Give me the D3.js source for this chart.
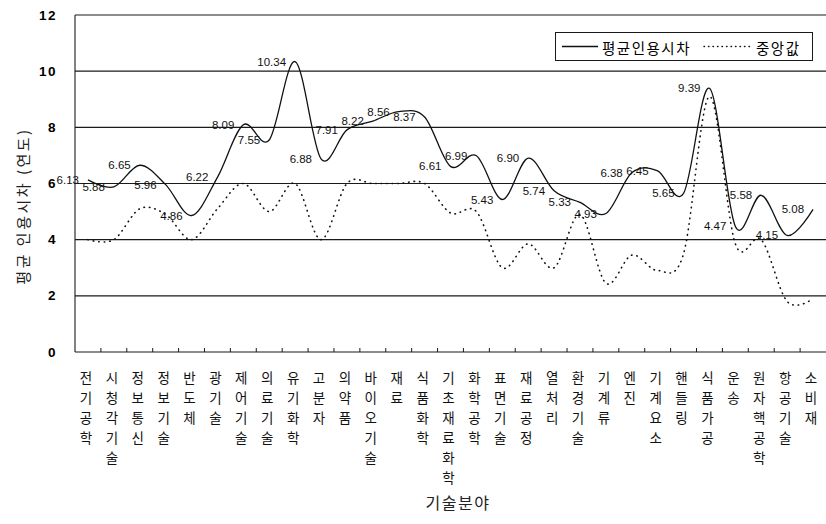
<!DOCTYPE html>
<html>
<head>
<meta charset="utf-8">
<script src="https://cdn.jsdelivr.net/npm/d3@7"></script>
<style>
  html, body { margin: 0; padding: 0; background: #fff; }
  svg { display: block; }
</style>
</head>
<body>
<svg id="chart" width="826" height="524"></svg>
<script>
// Technology fields (x axis categories)
const categories = [
  "전기공학", "시청각기술", "정보통신", "정보기술", "반도체", "광기술",
  "제어기술", "의료기술", "유기화학", "고분자", "의약품", "바이오기술",
  "재료", "식품화학", "기초재료화학", "화학공학", "표면기술", "재료공정",
  "열처리", "환경기술", "기계류", "엔진", "기계요소", "핸들링",
  "식품가공", "운송", "원자핵공학", "항공기술", "소비재"
];

// Mean citation lag (years) — labelled series
const meanLag = [
  6.13, 5.88, 6.65, 5.96, 4.86, 6.22, 8.09, 7.55, 10.34, 6.88,
  7.91, 8.22, 8.56, 8.37, 6.61, 6.99, 5.43, 6.90, 5.74, 5.33,
  4.93, 6.38, 6.45, 5.65, 9.39, 4.47, 5.58, 4.15, 5.08
];

// Median citation lag (years)
const medianLag = [
  4.0, 4.0, 5.1, 4.9, 4.0, 5.1, 6.0, 5.0, 6.0, 4.0,
  6.0, 6.0, 6.0, 6.0, 4.95, 5.0, 3.0, 3.85, 3.0, 4.9,
  2.45, 3.45, 2.9, 3.5, 9.1, 3.85, 4.0, 1.8, 1.9
];

const yTicks = [0, 2, 4, 6, 8, 10, 12];
const seriesNames = ["평균인용시차", "중앙값"];
const yTitle = "평균 인용시차 (연도)";
const xTitle = "기술분야";

const svg = d3.select("#chart");
const plot = { left: 75, right: 826, top: 15, bottom: 352 };

const x = d3.scaleBand().domain(categories).range([plot.left, plot.right]).padding(0);
const y = d3.scaleLinear().domain([0, 12]).range([plot.bottom, plot.top]);
const cx = d => x(d) + x.bandwidth() / 2;

const kr = "'Noto Sans CJK KR', 'Noto Sans', sans-serif";
const num = "'Liberation Sans', Arial, sans-serif";

// horizontal gridlines
svg.append("g")
  .selectAll("line")
  .data(yTicks.filter(v => v > 0))
  .join("line")
  .attr("x1", plot.left).attr("x2", plot.right + 2)
  .attr("y1", d => y(d)).attr("y2", d => y(d))
  .attr("stroke", "#1a1a1a").attr("stroke-width", 1.1);

// left axis line
svg.append("line")
  .attr("x1", plot.left).attr("x2", plot.left)
  .attr("y1", plot.top).attr("y2", plot.bottom)
  .attr("stroke", "#1a1a1a").attr("stroke-width", 1.1);

// y tick labels
svg.append("g")
  .selectAll("text")
  .data(yTicks)
  .join("text")
  .attr("x", 57).attr("y", d => y(d))
  .attr("text-anchor", "end")
  .attr("dominant-baseline", "central")
  .attr("font-family", num).attr("font-weight", "bold")
  .attr("font-size", 13.5).attr("letter-spacing", 1.5)
  .text(d => d);

// bottom axis with inward ticks at band boundaries
const xAxis = d3.axisBottom(x).tickSize(0).tickFormat("");
const gx = svg.append("g").attr("transform", `translate(0,${plot.bottom})`).call(xAxis);
gx.select(".domain").attr("stroke", "#1a1a1a").attr("stroke-width", 1.1)
  .attr("d", `M${plot.left},0H${plot.right + 2}`);
gx.selectAll(".tick").remove();
svg.append("g")
  .selectAll("line")
  .data(categories.slice(1))
  .join("line")
  .attr("x1", d => x(d)).attr("x2", d => x(d))
  .attr("y1", plot.bottom).attr("y2", plot.bottom - 4)
  .attr("stroke", "#1a1a1a").attr("stroke-width", 1);

// vertical category labels, one syllable per row
const catG = svg.append("g")
  .attr("font-family", kr).attr("font-size", 13.5).attr("fill", "#111");
categories.forEach(c => {
  const t = catG.append("text")
    .attr("x", cx(c) - 2)
    .attr("text-anchor", "middle");
  Array.from(c).forEach((ch, i) => {
    t.append("tspan")
      .attr("x", cx(c) - 2)
      .attr("y", 383 + i * 20)
      .text(ch);
  });
});

// smoothed series lines
const line = data => d3.line()
  .x((d, i) => cx(categories[i]))
  .y(d => y(d))
  .curve(d3.curveCatmullRom.alpha(0))(data);

svg.append("path")
  .attr("d", line(medianLag))
  .attr("fill", "none")
  .attr("stroke", "#111")
  .attr("stroke-width", 1.6)
  .attr("stroke-linecap", "round")
  .attr("stroke-dasharray", "0.5,5");

svg.append("path")
  .attr("d", line(meanLag))
  .attr("fill", "none")
  .attr("stroke", "#111")
  .attr("stroke-width", 1.3);

// value labels for the mean series
svg.append("g")
  .selectAll("text")
  .data(meanLag)
  .join("text")
  .attr("x", (d, i) => cx(categories[i]) - 9)
  .attr("y", d => y(d))
  .attr("text-anchor", "end")
  .attr("dominant-baseline", "central")
  .attr("font-family", num)
  .attr("font-size", 11.5)
  .attr("fill", "#111")
  .text(d => d.toFixed(2));

// legend
const lg = svg.append("g");
lg.append("rect")
  .attr("x", 555.5).attr("y", 32.5).attr("width", 257).attr("height", 28)
  .attr("fill", "#fff").attr("stroke", "#1a1a1a").attr("stroke-width", 1);
lg.append("line")
  .attr("x1", 562).attr("x2", 598).attr("y1", 46.5).attr("y2", 46.5)
  .attr("stroke", "#111").attr("stroke-width", 1.3);
lg.append("text")
  .attr("x", 602).attr("y", 47)
  .attr("dominant-baseline", "central")
  .attr("font-family", kr).attr("font-size", 14.5).attr("letter-spacing", 1.5)
  .text(seriesNames[0]);
lg.append("line")
  .attr("x1", 704).attr("x2", 752).attr("y1", 46.5).attr("y2", 46.5)
  .attr("stroke", "#111").attr("stroke-width", 1.4)
  .attr("stroke-linecap", "round").attr("stroke-dasharray", "0.5,4");
lg.append("text")
  .attr("x", 756).attr("y", 47)
  .attr("dominant-baseline", "central")
  .attr("font-family", kr).attr("font-size", 14.5).attr("letter-spacing", 1.5)
  .text(seriesNames[1]);

// axis titles
svg.append("text")
  .attr("transform", "translate(22,206) rotate(-90)")
  .attr("text-anchor", "middle")
  .attr("dominant-baseline", "central")
  .attr("font-family", kr).attr("font-size", 15).attr("letter-spacing", 2.5)
  .attr("fill", "#222")
  .text(yTitle);

svg.append("text")
  .attr("x", 458).attr("y", 502)
  .attr("text-anchor", "middle")
  .attr("dominant-baseline", "central")
  .attr("font-family", kr).attr("font-size", 16).attr("letter-spacing", 1.5)
  .attr("fill", "#222")
  .text(xTitle);
</script>
</body>
</html>
